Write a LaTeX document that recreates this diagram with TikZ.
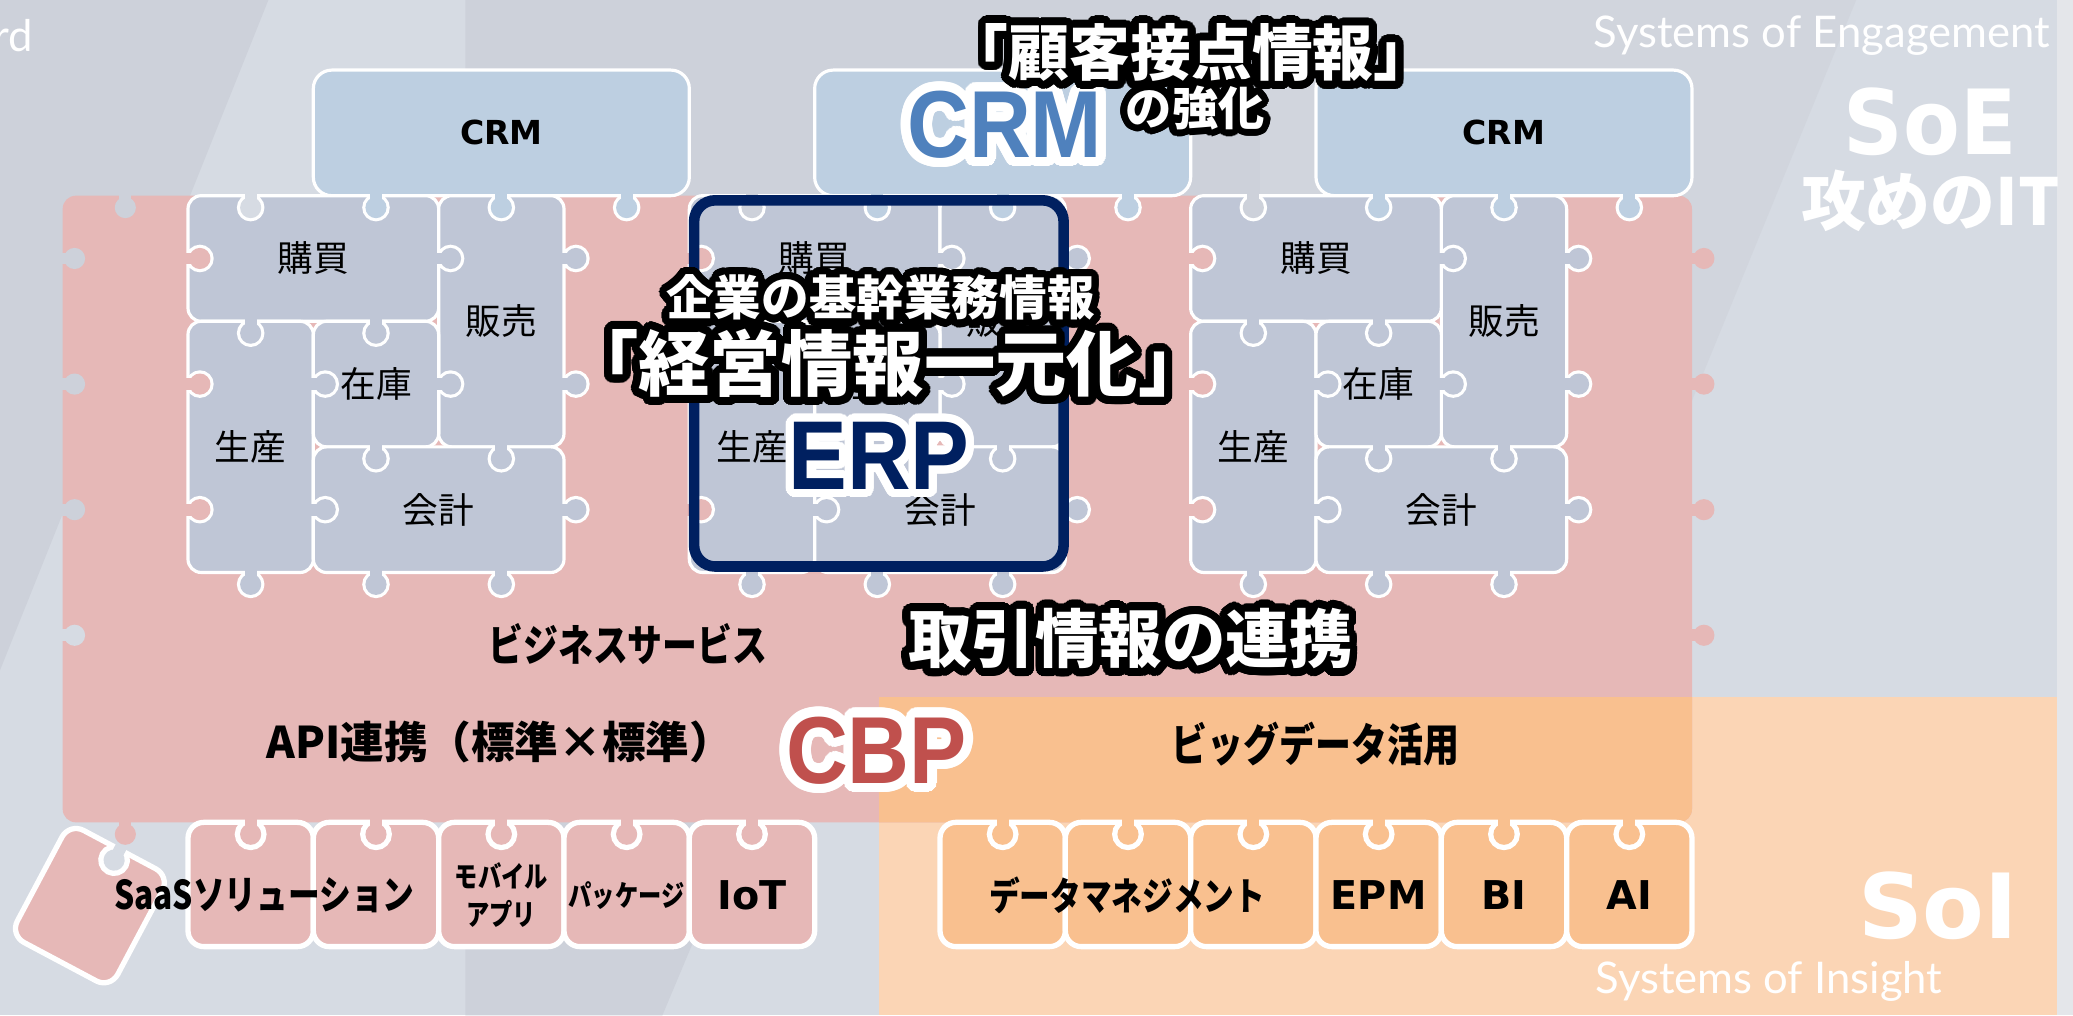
\documentclass[tikz,border=0pt]{standalone}
\usepackage{fontspec}
\setmainfont{Noto Sans CJK JP}
\newfontfamily\jpfont{Noto Sans CJK JP}
\newfontfamily\jpcfont[FakeStretch=0.8]{Noto Sans CJK JP}
\newfontfamily\dvfont{DejaVu Sans}
\newfontfamily\dvcfont[FakeStretch=0.92]{DejaVu Sans}
\newfontfamily\arfont[FakeStretch=0.9]{Liberation Sans}
\newfontfamily\latofont{Lato}
\usepackage[copies]{contour}
\contournumber{40}
\definecolor{bgD}{HTML}{CDD1DA}
\definecolor{bgL}{HTML}{D6DBE3}
\definecolor{bgM}{HTML}{D1D5DD}
\definecolor{bgR}{HTML}{E4E6EA}
\definecolor{redp}{HTML}{E6B8B7}
\definecolor{grayp}{HTML}{BFC6D6}
\definecolor{crmp}{HTML}{BDCFE1}
\definecolor{orgp}{HTML}{F9C08F}
\definecolor{soi}{HTML}{FBD5B5}
\definecolor{navy}{HTML}{002060}
\definecolor{crmblue}{HTML}{4F81BD}
\definecolor{cbpred}{HTML}{C0504D}

% puzzle knob: #1 x, #2 y, #3 rotation, #4 colour, #5 outline width (0 = none)
\newcommand\knob[5]{%
  \begin{scope}[shift={(#1,#2)},rotate=#3]
    \ifdim #5pt>0pt
      \begin{scope}
        \clip (0,-22) rectangle (32,22);
        \draw[white,line width=2*#5pt] (-3,-4.5) rectangle (9,4.5);
        \draw[white,line width=2*#5pt] (9,0) circle (4pt);
      \end{scope}
    \fi
    \fill[#4] (-3,-4.5) rectangle (9,4.5);
    \fill[#4] (9,0) circle (4pt);
  \end{scope}}

\newcommand\erpblock[2]{%
  \node[gpiece,minimum width=94.8pt,minimum height=47.5pt] (#1kobai) at ({#2+94.8},195.5) {購買};
  \node[gpiece,minimum width=47.4pt,minimum height=95pt] (#1hanbai) at ({#2+237},243) {販売};
  \node[gpiece,minimum width=47.4pt,minimum height=95pt] (#1seisan) at ({#2+47.4},338) {生産};
  \node[gpiece,minimum width=47.4pt,minimum height=47.5pt] (#1zaiko) at ({#2+142.2},290.5) {在庫};
  \node[gpiece,minimum width=94.8pt,minimum height=47.5pt] (#1kaikei) at ({#2+189.6},385.5) {会計};
}
\newcommand\blockknobs[1]{%
  \foreach \yy in {195.5,290.5,385.5} {\knob{#1}{\yy}{0}{redp}{1.2}\knob{#1+284.4}{\yy}{0}{grayp}{1.2}}
  \foreach \yy in {290.5,385.5} {\knob{#1+94.8}{\yy}{0}{grayp}{1.2}}
  \foreach \yy in {195.5,290.5} {\knob{#1+189.6}{\yy}{0}{grayp}{1.2}}
  \foreach \xx in {47.4,142.2} {\knob{#1+\xx}{243}{-90}{grayp}{1.2}}
  \foreach \xx in {142.2,237} {\knob{#1+\xx}{338}{-90}{grayp}{1.2}}
  \foreach \xx in {47.4,142.2,237} {\knob{#1+\xx}{433}{-90}{grayp}{1.2}}
}

\begin{document}
\begin{tikzpicture}[x=0.5pt,y=-0.5pt,
  gpiece/.style={draw=white,line width=1.2pt,fill=grayp,rounded corners=5pt,inner sep=0pt,
    font=\jpfont\fontsize{13.5}{16}\selectfont},
  crmpiece/.style={draw=white,line width=1.2pt,fill=crmp,rounded corners=7pt,inner sep=0pt,
    minimum width=142.2pt,minimum height=47.5pt,font=\dvfont\bfseries\fontsize{12.5}{15}\selectfont},
  bpiece/.style={draw=white,line width=2pt,rounded corners=6pt,inner sep=0pt,
    minimum width=47.4pt,minimum height=47pt},
  lbl/.style={inner sep=0pt},
  outl/.style={inner sep=0pt,text=white}]
\useasboundingbox (0,0) rectangle (1568,768);

% background panels
\fill[bgL] (0,0) rectangle (1568,768);
\fill[bgD] (0,0) -- (203,0) -- (0,507) -- cycle;
\fill[bgD] (352,0) -- (953,0) -- (953,190) -- (744,190) -- (501,768) -- (352,768) -- cycle;
\fill[bgM] (953,0) -- (1404,0) -- (1188,527) -- (953,527) -- cycle;
\fill[soi] (665,527.5) rectangle (1556,768);
\fill[bgR] (1556,0) rectangle (1568,768);

% CBP area
\node[fill=redp,rounded corners=5pt,inner sep=0pt,minimum width=616.2pt,minimum height=237pt] (cbparea) at (663.6,385) {};
\begin{scope}
  \clip[rounded corners=5pt] (47.4,148) rectangle (1279.8,622);
  \fill[orgp] (665,527.5) rectangle (1300,640);
\end{scope}

% CRM pieces
\node[crmpiece] (crmL) at (379.2,100.5) {CRM};
\node[crmpiece] (crmM) at (758.4,100.5) {};
\node[crmpiece] (crmR) at (1137.6,100.5) {CRM};

% ERP blocks
\erpblock{L}{142.2}
\erpblock{E}{521.4}
\erpblock{R}{900.6}

% bottom pieces
\foreach \x/\n in {189.6/b1,284.4/b2,379.2/b3,474/b4,568.8/b5}
  {\node[bpiece,fill=redp] (\n) at (\x,669) {};}
\foreach \x/\n in {758.4/o1,853.2/o2,948/o3,1042.8/o4,1137.6/o5,1232.4/o6}
  {\node[bpiece,fill=orgp] (\n) at (\x,669) {};}
\node[bpiece,fill=redp,rotate=-28,minimum width=43pt,minimum height=48pt] (fallen) at (68,685) {};

% knobs
\blockknobs{142.2}
\blockknobs{521.4}
\blockknobs{900.6}
\knob{94.8}{148}{-90}{bgD}{0}
\knob{189.6}{148}{-90}{bgL}{1.2}
\knob{568.8}{148}{-90}{bgD}{1.2}
\knob{948}{148}{-90}{bgD}{1.2}
\foreach \xx in {284.4,379.2,474,663.6,758.4,853.2,1042.8,1137.6,1232.4}
  {\knob{\xx}{148}{-90}{crmp}{1.2}}
\knob{47.4}{195.5}{0}{bgD}{0}
\knob{47.4}{290.5}{0}{bgD}{0}
\knob{47.4}{385.5}{0}{bgD}{0}
\knob{47.4}{480.5}{0}{bgL}{0}
\foreach \yy in {195.5,290.5,385.5,480.5} {\knob{1279.8}{\yy}{0}{redp}{0}}
\knob{94.8}{622}{-90}{redp}{0}
\foreach \xx in {189.6,284.4,379.2,474,568.8} {\knob{\xx}{622}{-90}{redp}{2}}
\foreach \xx in {758.4,853.2,948,1042.8,1137.6,1232.4} {\knob{\xx}{622}{-90}{orgp}{2}}
\begin{scope}[shift={(68,685)},rotate=-28]
  \knob{0}{-48}{-90}{bgL}{2}
\end{scope}

% ERP frame
\node[draw=navy,line width=4pt,rounded corners=8pt,inner sep=0pt,minimum width=139.75pt,minimum height=138.5pt] (erpframe) at (664.75,290) {};

% labels in CBP area
\node[lbl,font=\jpcfont\bfseries\fontsize{16.5}{18}\selectfont] (bizsvc) at (475,487) {ビジネスサービス};
\node[lbl,font=\jpfont\bfseries\fontsize{16.5}{19}\selectfont] (api) at (378,561) {API連携（標準×標準）};
\node[lbl,font=\jpcfont\bfseries\fontsize{17}{19}\selectfont] (bigdata) at (995,563) {ビッグデータ活用};

% bottom labels
\node[lbl,font=\jpcfont\bfseries\fontsize{15}{17}\selectfont] (saaslbl) at (200,677) {SaaSソリューション};
\node[lbl,font=\jpcfont\bfseries\fontsize{11}{14.5}\selectfont,align=center] (mobilbl) at (379.2,677) {モバイル\\アプリ};
\node[lbl,font=\jpcfont\bfseries\fontsize{11}{13}\selectfont] (pkglbl) at (474,677) {パッケージ};
\node[lbl,font=\dvfont\bfseries\fontsize{15}{17}\selectfont] (iotlbl) at (568.8,677) {IoT};
\node[lbl,font=\jpcfont\bfseries\fontsize{14.5}{17}\selectfont] (dmlbl) at (852.5,677) {データマネジメント};
\node[lbl,font=\dvfont\bfseries\fontsize{15}{17}\selectfont] (epmlbl) at (1042.8,677) {EPM};
\node[lbl,font=\dvfont\bfseries\fontsize{15}{17}\selectfont] (bilbl) at (1137.6,677) {BI};
\node[lbl,font=\dvfont\bfseries\fontsize{15}{17}\selectfont] (ailbl) at (1232.4,677) {AI};

% corner texts
\node[lbl,font=\latofont\fontsize{16.5}{18}\selectfont,text=white,anchor=east] (rdtxt) at (25,27) {rd};
\node[lbl,font=\latofont\fontsize{16.5}{18}\selectfont,text=white] (soetxt) at (1378,27) {Systems of Engagement};
\node[lbl,font=\dvcfont\bfseries\fontsize{34}{36}\selectfont,text=white] (soe) at (1460,92) {SoE};
\node[lbl,font=\jpfont\bfseries\fontsize{24.5}{26}\selectfont,text=white] (semeno) at (1460,152) {攻めのIT};
\node[lbl,font=\dvfont\bfseries\fontsize{34}{36}\selectfont,text=white] (soi) at (1466,685) {SoI};
\node[lbl,font=\latofont\fontsize{16.5}{18}\selectfont,text=white] (soitxt) at (1338,742) {Systems of Insight};

% big emphasis texts
\node[lbl,font=\arfont\bfseries\fontsize{36}{36}\selectfont,text=crmblue] (crmbig) at (760,98)
  {\contourlength{3.5pt}\contour{white}{CRM}};
\node[outl,font=\jpfont\bfseries\fontsize{23}{25}\selectfont] (kokyaku) at (901,43)
  {\contourlength{3pt}\contour{black}{「顧客接点情報」}};
\node[outl,font=\jpfont\bfseries\fontsize{17.5}{19}\selectfont] (kyoka) at (904,84)
  {\contourlength{2.6pt}\contour{black}{の強化}};
\node[outl,font=\jpfont\bfseries\fontsize{18}{20}\selectfont] (kikan) at (666,228)
  {\contourlength{2.8pt}\contour{black}{企業の基幹業務情報}};
\node[outl,font=\jpfont\bfseries\fontsize{27}{29}\selectfont] (ichigen) at (672,278)
  {\contourlength{3pt}\contour{black}{「経営情報一元化」}};
\node[lbl,font=\arfont\bfseries\fontsize{37}{37}\selectfont,text=navy] (erpbig) at (665,348)
  {\contourlength{3pt}\contour{white}{ERP}};
\node[outl,font=\jpfont\bfseries\fontsize{24}{26}\selectfont] (torihiki) at (855,486)
  {\contourlength{3pt}\contour{black}{取引情報の連携}};
\node[lbl,font=\arfont\bfseries\fontsize{36}{36}\selectfont,text=cbpred] (cbpbig) at (663,571)
  {\contourlength{3.5pt}\contour{white}{CBP}};
\end{tikzpicture}
\end{document}
